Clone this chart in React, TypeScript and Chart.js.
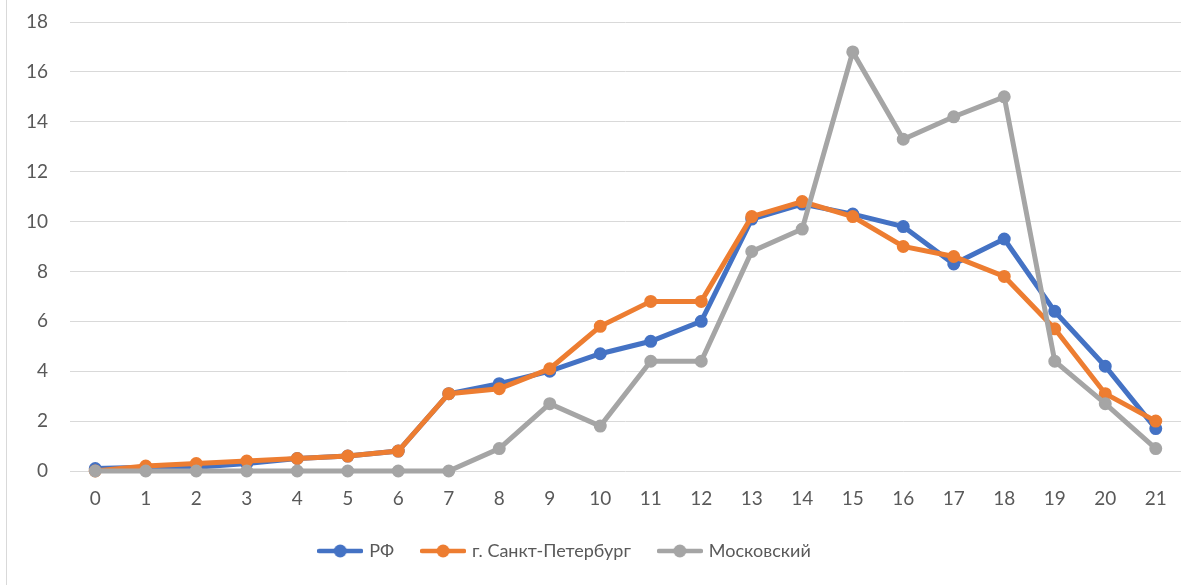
import React, { useEffect, useRef } from "react";
import { Chart, registerables } from "chart.js";

Chart.register(...registerables);

const categories = ["0","1","2","3","4","5","6","7","8","9","10","11","12","13","14","15","16","17","18","19","20","21"];
const seriesRF = [0.1, 0.15, 0.15, 0.3, 0.5, 0.6, 0.8, 3.1, 3.5, 4.0, 4.7, 5.2, 6.0, 10.1, 10.7, 10.3, 9.8, 8.3, 9.3, 6.4, 4.2, 1.7];
const seriesSPb = [0, 0.2, 0.3, 0.4, 0.5, 0.6, 0.8, 3.1, 3.3, 4.1, 5.8, 6.8, 6.8, 10.2, 10.8, 10.2, 9.0, 8.6, 7.8, 5.7, 3.1, 2.0];
const seriesMosk = [0, 0, 0, 0, 0, 0, 0, 0, 0.9, 2.7, 1.8, 4.4, 4.4, 8.8, 9.7, 16.8, 13.3, 14.2, 15.0, 4.4, 2.7, 0.9];
const seriesNames = ["РФ", "г. Санкт-Петербург", "Московский"];
const seriesColors = ["#4472C4", "#ED7D31", "#A5A5A5"];
const yTicks = { min: 0, max: 18, step: 2 };

const FONT = "Lato, 'Open Sans', sans-serif";

function legendIcon(color: string): HTMLCanvasElement {
  const c = document.createElement("canvas");
  c.width = 46;
  c.height = 14;
  const ctx = c.getContext("2d")!;
  ctx.strokeStyle = color;
  ctx.lineWidth = 4.5;
  ctx.lineCap = "round";
  ctx.beginPath();
  ctx.moveTo(2, 7);
  ctx.lineTo(44, 7);
  ctx.stroke();
  ctx.fillStyle = color;
  ctx.beginPath();
  ctx.arc(23, 7, 6.5, 0, Math.PI * 2);
  ctx.fill();
  return c;
}

const legendShift = {
  id: "legendShift",
  afterLayout(chart: any) {
    const lg = chart.legend;
    if (lg) {
      lg.left -= 25;
      lg.right -= 25;
    }
  },
};

export default function App() {
  const ref = useRef<HTMLCanvasElement>(null);
  useEffect(() => {
    let chart: Chart | null = null;
    let cancelled = false;
    const build = () => {
      if (cancelled || !ref.current) return;
      const values = [seriesRF, seriesSPb, seriesMosk];
      const icons = seriesColors.map(legendIcon);
      chart = new Chart(ref.current, {
        type: "line",
        data: {
          labels: categories,
          datasets: values.map((v, i) => ({
            label: seriesNames[i],
            data: v,
            borderColor: seriesColors[i],
            backgroundColor: seriesColors[i],
            pointBackgroundColor: seriesColors[i],
            pointBorderColor: seriesColors[i],
            pointRadius: 5.5,
            pointBorderWidth: 2,
            pointStyle: "circle",
            borderWidth: 5,
            tension: 0,
            order: 3 - i,
            clip: false,
          })),
        },
        plugins: [legendShift],
        options: {
          animation: false,
          responsive: false,
          layout: { autoPadding: false, padding: { left: 0, right: 0, top: 22, bottom: 15 } },
          plugins: {
            tooltip: { enabled: false },
            legend: {
              position: "bottom",
              labels: {
                usePointStyle: true,
                pointStyleWidth: 40,
                padding: 29,
                color: "#595959",
                font: { family: FONT, size: 18 },
                sort: (a: any, b: any) => a.datasetIndex - b.datasetIndex,
                generateLabels: (c: any) =>
                  c.data.datasets.map((ds: any, i: number) => ({
                    text: ds.label,
                    fillStyle: ds.borderColor,
                    strokeStyle: ds.borderColor,
                    lineWidth: 0,
                    pointStyle: icons[i],
                    fontColor: "#595959",
                    hidden: false,
                    datasetIndex: i,
                  })),
              },
            },
          },
          scales: {
            x: {
              offset: true,
              grid: { display: false, drawTicks: false },
              border: { display: false },
              ticks: { color: "#595959", font: { family: FONT, size: 19 }, padding: 16, maxRotation: 0 },
              afterFit: (s: any) => { s.height = 42; s.paddingRight = 0; s.paddingLeft = 0; },
            },
            y: {
              min: yTicks.min,
              max: yTicks.max,
              grid: { color: "#d9d9d9", lineWidth: 1, drawTicks: false },
              border: { display: false },
              ticks: { stepSize: yTicks.step, color: "#595959", font: { family: FONT, size: 19 }, padding: 22 },
              afterFit: (s: any) => { s.width = 70; s.paddingTop = 0; s.paddingBottom = 0; },
            },
          },
        },
      });
    };
    const fonts = (document as any).fonts;
    if (fonts && fonts.load) {
      Promise.all([fonts.load("18px Lato"), fonts.load("19px Lato")]).then(build, build);
    } else {
      build();
    }
    return () => {
      cancelled = true;
      if (chart) chart.destroy();
    };
  }, []);
  return (
    <div style={{ position: "absolute", left: 0, top: 0, width: 1181, height: 585, background: "#fff" }}>
      <div style={{ position: "absolute", left: 6, top: 0, width: 1, height: 585, background: "#d9d9d9" }} />
      <canvas ref={ref} width={1181} height={585} style={{ position: "absolute", left: 0, top: 0 }} />
    </div>
  );
}
